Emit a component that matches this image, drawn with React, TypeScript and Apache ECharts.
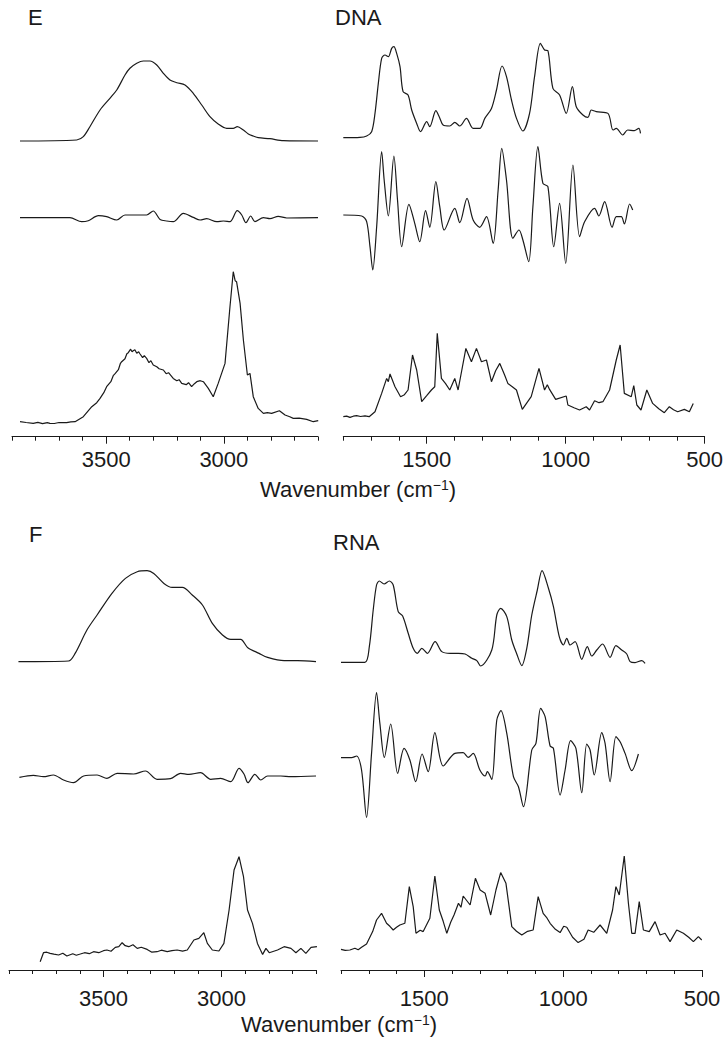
import React, { useEffect, useRef } from "react";
import * as echarts from "echarts";

type Pt = [number, number];

// ---------- DATA (wavenumber cm-1, relative intensity) ----------
const E_LEFT_ABS: Pt[] = [
  [3866, 0], [3625, 1], [3597, 4.3], [3569, 14.3], [3526, 31], [3484, 42.7], [3455, 51], [3420, 66],
  [3399, 72.7], [3370, 77.7], [3342, 80], [3314, 80], [3285, 76], [3257, 67.7], [3229, 61], [3200, 58.3],
  [3165, 56], [3130, 47.7], [3094, 36], [3059, 24.3], [3024, 17], [2988, 12.7], [2960, 12.7], [2943, 14.3],
  [2917, 11], [2896, 7], [2875, 5], [2854, 3.3], [2804, 2.3], [2747, 0.3], [2600, 0],
];
const E_LEFT_D2: Pt[] = [
  [3866, 0], [3654, 0], [3604, -4], [3576, -3], [3533, 2], [3498, 1], [3455, -2.3], [3420, 2.7],
  [3370, 2.7], [3328, 2.7], [3300, 6.7], [3271, -1.7], [3243, -3.3], [3215, -4], [3172, 4.3], [3130, 0.3],
  [3101, -2.3], [3073, -1], [3030, -4], [3002, -3.3], [2974, -4], [2943, 7], [2924, 2.7], [2906, -5],
  [2886, 1.7], [2868, -4], [2832, 0], [2804, -1], [2769, 1.3], [2733, -0.3], [2600, 0],
];
const E_LEFT_RAMAN: Pt[] = [
  [3866, 1], [3840, 0.2], [3810, -0.7], [3790, 0.3], [3770, -1], [3750, 0], [3739, -0.7], [3720, -0.8],
  [3700, 0.2], [3668, 0], [3650, 0.8], [3632, 1], [3597, 6], [3561, 16], [3540, 20], [3526, 24.3],
  [3510, 30], [3498, 36], [3480, 41], [3470, 47], [3462, 49], [3448, 53], [3440, 59], [3434, 61],
  [3420, 64], [3412, 69], [3406, 70], [3396, 73.5], [3390, 71], [3385, 72], [3378, 73], [3370, 69.5],
  [3362, 71], [3356, 68.7], [3345, 65], [3338, 67], [3328, 64.3], [3318, 60], [3310, 62], [3300, 57.7],
  [3285, 56], [3275, 54], [3257, 52.7], [3245, 49], [3235, 50], [3215, 44.3], [3200, 42], [3190, 43],
  [3179, 39.3], [3160, 38], [3150, 40], [3137, 36], [3125, 39], [3115, 41], [3100, 42], [3087, 41],
  [3066, 34.3], [3045, 26], [3024, 39.3], [2995, 59.3], [2974, 116], [2960, 151], [2952, 142], [2946, 141],
  [2931, 119.3], [2917, 82.7], [2900, 47.7], [2889, 49.3], [2875, 26], [2854, 14.3], [2832, 9.3], [2815, 10],
  [2797, 9.3], [2764, 12], [2740, 7.7], [2720, 6], [2705, 4.3], [2680, 4.5], [2648, 3.3], [2620, 1], [2599, 2],
];

const E_RIGHT_ABS: Pt[] = [
  [1800, 0], [1740, 0.3], [1716, 1.7], [1698, 6], [1686, 24.3], [1674, 54.3], [1662, 79.3], [1650, 82.7],
  [1638, 81], [1626, 89.3], [1618, 91], [1608, 84.3], [1596, 71], [1585, 46], [1567, 42.7], [1554, 27.7],
  [1536, 14.3], [1522, 6], [1500, 16], [1489, 11], [1467, 27], [1455, 21], [1441, 12.7], [1417, 11.7],
  [1399, 15.3], [1381, 11.7], [1357, 19.3], [1333, 9.3], [1309, 9.3], [1291, 19.3], [1267, 29.3], [1249, 47.7],
  [1229, 71.7], [1213, 61], [1195, 37.7], [1177, 19.3], [1154, 6.7], [1130, 24.3], [1112, 61], [1091, 94.3],
  [1076, 87.7], [1064, 87], [1046, 49.3], [1022, 42.7], [998, 24.3], [976, 51], [962, 31], [938, 22.7],
  [920, 20.3], [908, 27.7], [890, 26], [848, 24.3], [830, 7.7], [818, 9.3], [795, 2.7], [777, 7.7],
  [753, 7], [737, 9.3], [731, 4.3],
];
const E_RIGHT_D2: Pt[] = [
  [1800, 0], [1734, -1], [1716, -6.7], [1704, -31.7], [1694, -55], [1680, -11.7], [1662, 63.3], [1653, 35],
  [1638, -1], [1618, 59], [1605, 15], [1590, -31.7], [1564, 10.7], [1543, -8.3], [1525, -26.7], [1504, 4.3],
  [1489, -12.3], [1467, 33.3], [1453, 8.3], [1437, -15], [1399, 6.7], [1381, -7.7], [1355, 16.7], [1333, -5],
  [1309, -12.3], [1285, -1.7], [1261, -28.3], [1243, 25], [1230, 66.7], [1213, 35], [1190, -23.3], [1168, -15],
  [1154, -25], [1133, -46.7], [1118, 8.3], [1100, 68.3], [1082, 31.7], [1064, 28.3], [1043, -31.7], [1022, 11.7],
  [1000, -48.3], [974, 50], [950, -21.7], [932, -6.7], [896, 6.7], [881, -1], [860, 13.3], [833, -12.3],
  [818, -1.7], [800, -1.7], [789, -9], [770, 11], [759, 5],
];
const E_RIGHT_RAMAN: Pt[] = [
  [1800, 0], [1788, 0.6], [1776, -0.7], [1764, 0.5], [1752, 1], [1738, 0.2], [1722, 0.8], [1707, 0],
  [1686, 5], [1662, 23.3], [1644, 38.3], [1638, 35], [1632, 42.7], [1614, 30], [1594, 20], [1580, 22],
  [1567, 26.7], [1551, 61.7], [1536, 46.7], [1518, 15], [1500, 21], [1483, 26.7], [1471, 30], [1462, 83.3],
  [1447, 38.3], [1432, 33], [1417, 26.7], [1399, 38.3], [1387, 26.7], [1359, 68.3], [1339, 55], [1321, 68.3],
  [1303, 55], [1285, 56.7], [1267, 35], [1252, 46], [1237, 53.3], [1220, 42], [1208, 33.3], [1192, 30],
  [1177, 26.7], [1156, 7.3], [1124, 20], [1096, 48.3], [1076, 26.7], [1066, 32], [1058, 27.3], [1036, 17.3],
  [998, 20.7], [992, 11.7], [970, 9], [950, 6.7], [926, 10], [914, 6.7], [896, 16], [880, 14],
  [866, 15], [842, 26.7], [818, 56.7], [804, 71.7], [789, 23.3], [764, 20], [755, 31], [744, 11.7],
  [729, 6.7], [708, 26.7], [687, 13.3], [665, 8], [645, 4], [627, 10], [612, 7], [597, 5],
  [573, 7.3], [555, 5], [541, 13.3],
];

const F_LEFT_ABS: Pt[] = [
  [3860, 0], [3648, 0.7], [3620, 8.3], [3570, 31.7], [3527, 46.7], [3464, 68.3], [3407, 83.3], [3357, 90],
  [3315, 91], [3287, 88.3], [3244, 78.3], [3209, 74.3], [3166, 74.3], [3124, 66.7], [3081, 56.7], [3039, 38.3],
  [2996, 26.7], [2961, 22.3], [2919, 22.3], [2890, 14.3], [2841, 8.3], [2805, 4.3], [2735, 1], [2678, 1],
  [2600, 0],
];
const F_LEFT_D2: Pt[] = [
  [3856, -1.3], [3797, 0.7], [3754, -0.7], [3712, 1], [3669, -4], [3627, -6.7], [3584, 0], [3527, 1],
  [3485, -2.3], [3442, 2.7], [3372, 2], [3322, 5], [3273, -3.3], [3216, -2.7], [3174, 2.7], [3138, 1.7],
  [3089, 3.3], [3046, -3.3], [3004, -2.3], [2961, -5.7], [2926, 7.7], [2905, 2], [2888, -6.7], [2859, 1.7],
  [2834, -4], [2805, 0], [2749, 0], [2706, -0.7], [2600, 0],
];
const F_LEFT_RAMAN: Pt[] = [
  [3768, -10], [3754, -1], [3740, -0.5], [3726, -1.7], [3710, -2.5], [3690, -3.3], [3672, -1.5], [3655, -4.3],
  [3630, -2], [3615, -3.5], [3598, -2.3], [3580, -1], [3560, -2], [3542, 0], [3520, -1], [3500, 1],
  [3485, 1.7], [3468, 0.5], [3450, 4.3], [3435, 5], [3421, 9], [3408, 6], [3393, 5], [3375, 7],
  [3357, 3.3], [3340, 4.5], [3315, 2.3], [3295, -0.5], [3273, 0], [3255, 1.5], [3230, 0], [3210, 1],
  [3188, 1.7], [3165, 0.5], [3145, 1.7], [3117, 11.7], [3096, 13.3], [3075, 19], [3060, 8.3], [3039, 1.7],
  [3011, 0.7], [2990, 8.3], [2968, 41.7], [2947, 81.7], [2926, 95], [2907, 75], [2890, 41.7], [2869, 28.3],
  [2848, 8.3], [2826, -2.7], [2812, 3.3], [2798, -1], [2763, 1.7], [2735, 5], [2706, 3.3], [2685, -1],
  [2664, 3.3], [2643, -1.7], [2621, 4.3], [2596, 5],
];

const F_RIGHT_ABS: Pt[] = [
  [1800, 0], [1714, 0], [1698, 15.7], [1684, 52.3], [1672, 77.3], [1662, 81.3], [1645, 78.3], [1626, 81.3],
  [1612, 77.3], [1594, 50.7], [1578, 46.3], [1558, 29], [1540, 14], [1525, 9], [1509, 14], [1489, 9],
  [1461, 20.7], [1437, 10.7], [1407, 9], [1377, 9], [1353, 8.3], [1329, 4], [1311, 1.7], [1297, -3.7],
  [1257, 12.3], [1239, 47.3], [1225, 54], [1203, 45.7], [1185, 22.3], [1167, 8.3], [1149, -3.3], [1131, 14],
  [1113, 47.3], [1093, 72.3], [1076, 91.7], [1053, 74], [1035, 55.7], [1014, 25.7], [999, 17.3], [987, 24],
  [975, 17.3], [957, 20.7], [933, 3], [913, 15.7], [897, 6.3], [879, 12.3], [858, 18.3], [831, 5],
  [810, 16.7], [789, 12.3], [771, 8.3], [759, 0.7], [741, -0.3], [717, 1.7], [705, -1],
];
const F_RIGHT_D2: Pt[] = [
  [1800, 0], [1762, 0], [1744, 1.7], [1726, -12.3], [1708, -59.7], [1690, 4.3], [1672, 65], [1660, 34.3],
  [1644, 0.3], [1621, 33.7], [1596, -15.7], [1573, 9.3], [1552, -2.3], [1531, -24], [1508, 3.7], [1486, -14],
  [1462, 25], [1432, -8.3], [1390, 4.3], [1360, 5], [1342, 0.3], [1324, 4.3], [1300, -12.3], [1281, -18.3],
  [1273, -14], [1257, -21.7], [1239, 37.7], [1224, 47], [1203, 24.3], [1179, -19], [1161, -29], [1143, -49],
  [1113, 7.7], [1098, 14.3], [1081, 49.3], [1065, 41], [1047, 11.7], [1035, 9.3], [1011, -37.3], [993, -12.3],
  [973, 17], [954, 9.3], [933, -35], [915, 13.7], [903, 7.7], [888, -17.3], [861, 25], [849, 14.3],
  [831, -24], [810, 21], [795, 16], [777, 4.3], [753, -13], [729, 3.7],
];
const F_RIGHT_RAMAN: Pt[] = [
  [1800, 0], [1785, -1], [1768, -0.7], [1750, 1], [1738, -0.5], [1726, 2], [1708, 5.3], [1686, 17.7],
  [1672, 29.3], [1654, 36], [1636, 26], [1624, 23], [1612, 19.3], [1600, 22], [1588, 24.3], [1570, 26],
  [1554, 62.7], [1540, 42.7], [1530, 16], [1515, 19], [1504, 17.7], [1480, 31], [1462, 73.3], [1446, 39.3],
  [1432, 28], [1419, 16], [1405, 27], [1393, 34.3], [1377, 46], [1368, 42], [1360, 53.3], [1335, 44.3],
  [1316, 71], [1299, 59.3], [1281, 56], [1261, 34.3], [1242, 59.3], [1225, 76.7], [1206, 66], [1185, 22.7],
  [1168, 18], [1149, 14.3], [1128, 18], [1108, 19.3], [1090, 52.7], [1072, 36], [1060, 32], [1047, 26],
  [1028, 20], [1011, 16.7], [998, 23], [987, 22], [966, 12], [946, 6.7], [925, 10], [910, 19.3],
  [890, 17], [867, 24.3], [843, 16], [822, 39.3], [810, 62.7], [798, 54.3], [780, 93.3], [765, 46],
  [753, 16], [741, 16], [726, 47.7], [711, 19.3], [690, 17.7], [669, 27.7], [651, 14.3], [633, 16],
  [615, 7.7], [591, 19.3], [567, 16], [548, 12], [531, 7.7], [513, 12.7], [501, 9.3],
];

const LEFT_RANGE: [number, number] = [2600, 3900];
const RIGHT_RANGE: [number, number] = [500, 1800];
const LEFT_MAJOR = [3500, 3000];
const RIGHT_MAJOR = [1500, 1000, 500];
const PANEL_LETTERS = ["E", "F"];
const PANEL_SAMPLES = ["DNA", "RNA"];
const AXIS_TITLE = "Wavenumber (cm";
const AXIS_TITLE_SUP = "\u22121";

const DATA_BY_PANEL = [
  { left: [E_LEFT_ABS, E_LEFT_D2, E_LEFT_RAMAN], right: [E_RIGHT_ABS, E_RIGHT_D2, E_RIGHT_RAMAN] },
  { left: [F_LEFT_ABS, F_LEFT_D2, F_LEFT_RAMAN], right: [F_RIGHT_ABS, F_RIGHT_D2, F_RIGHT_RAMAN] },
];

// ---------- LAYOUT / STYLE ----------
const INK = "#1a1a1a";
const FONT = "'Liberation Sans', Arial, Helvetica, sans-serif";
const LAYOUT = [
  {
    letterXY: [28, 17.5], sampleXY: [335, 17.5], axisY: 436.7, labelMargin: 12, titleXY: [358, 489],
    left: { x0: 12, x1: 318, bases: [141, 217.7, 422.7] },
    right: { x0: 343.3, x1: 704.7, bases: [137.7, 215, 416.7] },
  },
  {
    letterXY: [29, 534], sampleXY: [333, 542.5], axisY: 970, labelMargin: 17, titleXY: [339, 1024],
    left: { x0: 9, x1: 316, bases: [661.7, 776, 951.7] },
    right: { x0: 341, x1: 702, bases: [662.3, 757.7, 949.3] },
  },
];

function buildOption() {
  const grid: any[] = [];
  const xAxis: any[] = [];
  const yAxis: any[] = [];
  const series: any[] = [];
  const graphic: any[] = [];

  LAYOUT.forEach((panel, pi) => {
    (["left", "right"] as const).forEach((side) => {
      const s = panel[side];
      const range = side === "left" ? LEFT_RANGE : RIGHT_RANGE;
      const major = side === "left" ? LEFT_MAJOR : RIGHT_MAJOR;
      DATA_BY_PANEL[pi][side].forEach((data, i) => {
        const base = s.bases[i];
        const isBottom = i === 2;
        const above = Math.min(170, base - 2);
        const below = isBottom ? panel.axisY - base : 120;
        const gi = grid.length;
        grid.push({ left: s.x0, width: s.x1 - s.x0, top: base - above, height: above + below });
        const xi = xAxis.length;
        xAxis.push({
          gridIndex: gi, type: "value", inverse: true, min: range[0], max: range[1], interval: 100,
          position: "bottom", show: isBottom,
          axisLine: { show: true, onZero: false, lineStyle: { color: INK, width: 1 } },
          axisTick: { show: true, length: 4, lineStyle: { color: INK, width: 1 } },
          axisLabel: { show: false },
          splitLine: { show: false },
        });
        if (isBottom) {
          xAxis.push({
            gridIndex: gi, type: "value", inverse: true, min: range[0], max: range[1], interval: 100,
            position: "bottom",
            axisLine: { show: false, onZero: false },
            axisTick: { show: true, length: 7, customValues: major, lineStyle: { color: INK, width: 1 } },
            axisLabel: {
              show: true, customValues: major, margin: panel.labelMargin, fontSize: 22, color: INK,
              fontFamily: FONT, showMinLabel: true, showMaxLabel: true,
              formatter: (v: number) => (major.includes(v) ? String(v) : ""),
            },
            splitLine: { show: false },
          });
        }
        const yi = yAxis.length;
        yAxis.push({ gridIndex: gi, type: "value", min: -below, max: above, show: false, splitLine: { show: false } });
        series.push({
          type: "line", xAxisIndex: xi, yAxisIndex: yi, data, showSymbol: false, symbol: "none",
          smooth: i === 2 ? false : 0.3, silent: true,
          lineStyle: { color: INK, width: 1.2 },
        });
      });
    });

    graphic.push({
      type: "text", x: panel.letterXY[0], y: panel.letterXY[1],
      style: { text: PANEL_LETTERS[pi], fontSize: 22, fontFamily: FONT, fill: INK, align: "left", verticalAlign: "middle" },
    });
    graphic.push({
      type: "text", x: panel.sampleXY[0], y: panel.sampleXY[1],
      style: { text: PANEL_SAMPLES[pi], fontSize: 22, fontFamily: FONT, fill: INK, align: "left", verticalAlign: "middle" },
    });
    graphic.push({
      type: "text", x: panel.titleXY[0], y: panel.titleXY[1],
      style: {
        text: `{a|${AXIS_TITLE}}{s|${AXIS_TITLE_SUP}}{a|)}`,
        align: "center", verticalAlign: "middle",
        rich: {
          a: { fontSize: 22, fontFamily: FONT, fill: INK },
          s: { fontSize: 14, fontFamily: FONT, fill: INK, verticalAlign: "top" },
        },
      },
    });
  });

  return {
    animation: false,
    backgroundColor: "#ffffff",
    grid, xAxis, yAxis, series, graphic,
  };
}

export default function App() {
  const ref = useRef<HTMLDivElement>(null);
  useEffect(() => {
    if (!ref.current) return;
    const chart = echarts.init(ref.current, undefined, { renderer: "svg" });
    chart.setOption(buildOption() as any);
    return () => chart.dispose();
  }, []);
  return (
    <div
      ref={ref}
      style={{ position: "fixed", left: 0, top: 0, width: 726, height: 1050, background: "#fff" }}
    />
  );
}
